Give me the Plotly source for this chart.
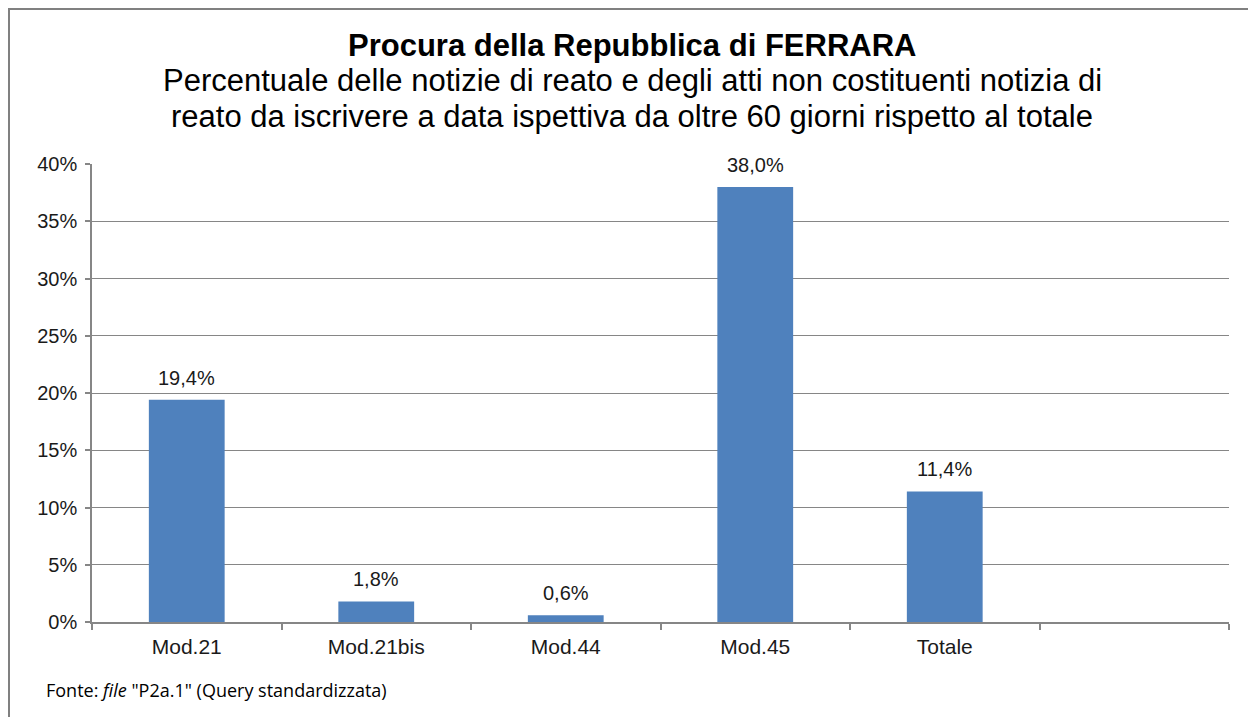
import plotly.graph_objects as go

categories = ["Mod.21", "Mod.21bis", "Mod.44", "Mod.45", "Totale"]
values = [0.194, 0.018, 0.006, 0.380, 0.114]
value_labels = ["19,4%", "1,8%", "0,6%", "38,0%", "11,4%"]
y_ticks = [0, 0.05, 0.10, 0.15, 0.20, 0.25, 0.30, 0.35, 0.40]

title_main = "Procura della Repubblica di FERRARA"
subtitle_1 = "Percentuale delle notizie di reato e degli atti non costituenti notizia di"
subtitle_2 = "reato da iscrivere a data ispettiva da oltre 60 giorni rispetto al totale"
footnote = 'Fonte: <i>file</i> "P2a.1" (Query standardizzata)'

xpos = list(range(len(categories)))
n_slots = len(categories) + 1
boundaries = [i - 0.5 for i in range(n_slots + 1)]

grid_col = "#868686"
font_main = "Liberation Sans, Arial, sans-serif"

# page body has an 8px margin: plot area target (screen) x 92..1229, y 164..622
OFF = 8
PL, PR, PT, PB = 92, 1229, 164, 622
W, H = 1256 - OFF, 717 - OFF
pw, ph = PR - PL, PB - PT


def px(x):
    return (x - PL) / pw


def py(y):
    return (PB - y) / ph


fig = go.Figure()
fig.add_trace(go.Bar(
    x=xpos, y=values,
    marker=dict(color="#4F81BD", line=dict(width=0)),
    width=0.4,
    hoverinfo="skip",
))

for xv, yv, lab in zip(xpos, values, value_labels):
    fig.add_annotation(x=xv, y=yv, xref="x", yref="y", text=lab, showarrow=False,
                       xanchor="center", yanchor="bottom", yshift=9,
                       font=dict(size=20, color="#1a1a1a", family=font_main))

fig.update_layout(
    width=W, height=H,
    margin=dict(l=PL - OFF, r=W - (PR - OFF), t=PT - OFF, b=H - (PB - OFF), autoexpand=False),
    paper_bgcolor="white", plot_bgcolor="white",
    separators=",.",
    showlegend=False,
    font=dict(family=font_main, color="#1a1a1a"),
    xaxis=dict(
        range=[-0.5, n_slots - 0.5],
        tickvals=xpos, ticktext=categories, ticks="",
        tickfont=dict(size=21, color="#1a1a1a"),
        showgrid=False, zeroline=False,
        showline=True, linecolor=grid_col, linewidth=1.5,
        minor=dict(tickvals=boundaries, ticks="outside", ticklen=6,
                   tickcolor=grid_col, tickwidth=1.5, showgrid=False),
        ticklabelstandoff=5,
        automargin=False,
    ),
    yaxis=dict(
        range=[0, 0.40],
        tickvals=y_ticks, tickformat=".0%",
        tickfont=dict(size=20, color="#1a1a1a"),
        showgrid=True, gridcolor=grid_col, gridwidth=1.2,
        zeroline=False,
        showline=True, linecolor=grid_col, linewidth=1.5,
        ticks="outside", ticklen=5, tickcolor=grid_col, tickwidth=1.5,
        ticklabelstandoff=4,
        automargin=False,
    ),
)

titles = [
    ("<b>" + title_main + "</b>", 45),
    (subtitle_1, 81),
    (subtitle_2, 116),
]
for txt, ys in titles:
    fig.add_annotation(text=txt, x=px(632), y=py(ys), xref="paper", yref="paper",
                       showarrow=False, xanchor="center", yanchor="middle",
                       font=dict(size=31, color="black", family=font_main))

fig.add_annotation(text=footnote, x=px(44), y=py(690),
                   xref="paper", yref="paper", showarrow=False,
                   xanchor="left", yanchor="middle",
                   font=dict(size=18, color="black", family="Open Sans, Lato, sans-serif"))

fig.add_shape(type="rect", xref="paper", yref="paper",
              x0=px(9), x1=px(1254),
              y0=py(760), y1=py(9),
              line=dict(color="#808080", width=2), fillcolor="rgba(0,0,0,0)", layer="below")

fig.write_html("out.html")
